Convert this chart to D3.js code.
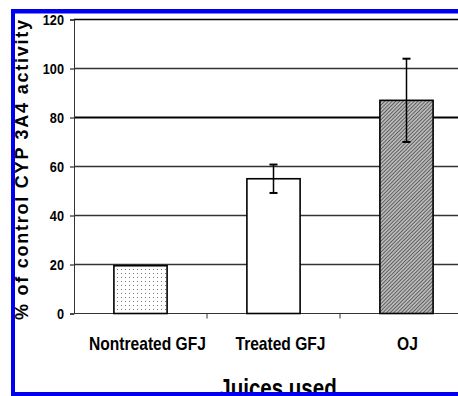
<!DOCTYPE html>
<html>
<head>
<meta charset="utf-8">
<script src="https://cdn.jsdelivr.net/npm/d3@7"></script>
<style>
  body { margin: 0; background: #fff; }
  svg { display: block; }
  .narrow { font-family: "Liberation Sans", Arial, sans-serif; font-weight: bold; }
</style>
</head>
<body>
<div id="chart"></div>
<script>
var width = 458;
var height = 396;

// data
var juices = ["Nontreated GFJ", "Treated GFJ", "OJ"];
var activity = [19.5, 55, 87];
var errors = [0, 5.8, 17];
var yTicks = [0, 20, 40, 60, 80, 100, 120];

var margin = {top: 19.5, left: 74, bottom: 82.5};

var svg = d3.select("#chart").append("svg")
    .attr("width", width)
    .attr("height", height);

var defs = svg.append("defs");

// dotted fill
var dots = defs.append("pattern")
    .attr("id", "dots")
    .attr("patternUnits", "userSpaceOnUse")
    .attr("width", 4)
    .attr("height", 4);
dots.append("rect").attr("width", 4).attr("height", 4).attr("fill", "#fff");
dots.append("rect").attr("x", 1).attr("y", 1).attr("width", 1).attr("height", 1).attr("fill", "#777");

// dense hatch
var hatch = defs.append("pattern")
    .attr("id", "hatch")
    .attr("patternUnits", "userSpaceOnUse")
    .attr("width", 2.6)
    .attr("height", 2.6)
    .attr("patternTransform", "rotate(45)");
hatch.append("rect").attr("width", 2.6).attr("height", 2.6).attr("fill", "#b8b8b8");
hatch.append("line").attr("x1", 0).attr("x2", 0).attr("y1", 0).attr("y2", 2.6)
    .attr("stroke", "#3a3a3a").attr("stroke-width", 1.3);

var fills = ["url(#dots)", "#fff", "url(#hatch)"];

var x = d3.scaleBand()
    .domain(juices)
    .range([margin.left, margin.left + 399])
    .paddingInner(0.6)
    .paddingOuter(0.3);

var y = d3.scaleLinear()
    .domain([0, 120])
    .range([height - margin.bottom, margin.top]);

// squeeze bold text to look like a narrow face
function narrow(sel) {
    sel.each(function() {
        var w = this.getComputedTextLength();
        d3.select(this)
            .attr("textLength", w * 0.82)
            .attr("lengthAdjust", "spacingAndGlyphs");
    });
}

// gridlines
svg.selectAll(".grid")
    .data(yTicks.filter(function(d) { return d > 0; }))
    .enter()
    .append("line")
    .attr("class", "grid")
    .attr("x1", margin.left)
    .attr("x2", width)
    .attr("y1", function(d) { return y(d); })
    .attr("y2", function(d) { return y(d); })
    .attr("stroke", function(d) { return d == 80 || d == 120 ? "#000" : "#333"; })
    .attr("stroke-width", function(d) { return d == 80 ? 2 : 1.3; });

// y axis
var yAxis = svg.append("g")
    .attr("transform", "translate(" + margin.left + ",0)")
    .call(d3.axisLeft(y).tickValues(yTicks).tickSize(4).tickPadding(6));
yAxis.select(".domain").attr("stroke", "#333");
yAxis.selectAll("text")
    .attr("class", "narrow")
    .attr("font-family", null)
    .style("font-size", "15.5px")
    .attr("fill", "#000")
    .call(narrow);

// x axis baseline and ticks between categories
var step = x.step();
svg.append("line")
    .attr("x1", margin.left)
    .attr("x2", width)
    .attr("y1", y(0))
    .attr("y2", y(0))
    .attr("stroke", "#333");

svg.selectAll(".xtick")
    .data(juices.slice(1))
    .enter()
    .append("line")
    .attr("x1", function(d) { return x(d) - x.paddingInner() * step / 2; })
    .attr("x2", function(d) { return x(d) - x.paddingInner() * step / 2; })
    .attr("y1", y(0))
    .attr("y2", y(0) + 5)
    .attr("stroke", "#333");

// bars
svg.selectAll(".bar")
    .data(activity)
    .enter()
    .append("rect")
    .attr("class", "bar")
    .attr("x", function(d, i) { return x(juices[i]); })
    .attr("y", function(d) { return y(d); })
    .attr("width", x.bandwidth())
    .attr("height", function(d) { return y(0) - y(d); })
    .attr("fill", function(d, i) { return fills[i]; })
    .attr("stroke", "#000")
    .attr("stroke-width", 1.6);

// error bars
var err = svg.selectAll(".err")
    .data(activity.map(function(d, i) { return {v: d, e: errors[i], k: juices[i]}; })
        .filter(function(d) { return d.e > 0; }))
    .enter()
    .append("g")
    .attr("class", "err");

err.append("line")
    .attr("x1", function(d) { return x(d.k) + x.bandwidth() / 2; })
    .attr("x2", function(d) { return x(d.k) + x.bandwidth() / 2; })
    .attr("y1", function(d) { return y(d.v + d.e); })
    .attr("y2", function(d) { return y(d.v - d.e); })
    .attr("stroke", "#000")
    .attr("stroke-width", 1.5);

err.selectAll(".cap")
    .data(function(d) { return [d.v + d.e, d.v - d.e].map(function(v) { return {v: v, k: d.k}; }); })
    .enter()
    .append("line")
    .attr("x1", function(d) { return x(d.k) + x.bandwidth() / 2 - 4; })
    .attr("x2", function(d) { return x(d.k) + x.bandwidth() / 2 + 4; })
    .attr("y1", function(d) { return y(d.v); })
    .attr("y2", function(d) { return y(d.v); })
    .attr("stroke", "#000")
    .attr("stroke-width", 2);

// category labels
svg.selectAll(".cat")
    .data(juices)
    .enter()
    .append("text")
    .attr("class", "narrow")
    .attr("x", function(d, i) { return x(d) + x.bandwidth() / 2 + (i < 2 ? 7 : 1); })
    .attr("y", 350)
    .attr("text-anchor", "middle")
    .style("font-size", "19px")
    .text(function(d) { return d; })
    .call(narrow);

// axis titles
svg.append("text")
    .attr("class", "narrow")
    .attr("x", 278)
    .attr("y", 397)
    .attr("text-anchor", "middle")
    .style("font-size", "25px")
    .text("Juices used")
    .call(narrow);

svg.append("text")
    .attr("transform", "translate(28,320) rotate(-90)")
    .attr("font-family", "Liberation Sans, Arial, sans-serif")
    .attr("font-weight", "bold")
    .style("font-size", "18px")
    .attr("textLength", 300)
    .attr("lengthAdjust", "spacing")
    .text("% of control CYP 3A4 activity");

// blue frame
var frame = svg.append("g").attr("fill", "#0000f0");
frame.append("rect").attr("x", 11).attr("y", 9).attr("width", width - 11).attr("height", 4.5);
frame.append("rect").attr("x", 11).attr("y", 9).attr("width", 4).attr("height", height - 9);
frame.append("rect").attr("x", 11).attr("y", 392).attr("width", width - 11).attr("height", 4);
svg.append("rect").attr("x", 0).attr("y", 0).attr("width", width).attr("height", 9).attr("fill", "#fff");
</script>
</body>
</html>
